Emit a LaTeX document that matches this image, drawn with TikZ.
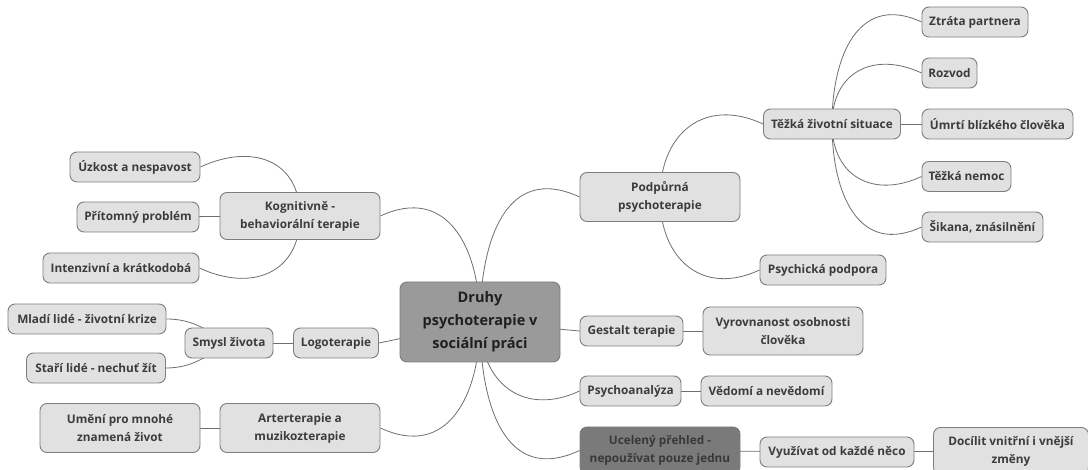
\documentclass[tikz,border=0pt]{standalone}
\usepackage{fontspec}
\setmainfont{Open Sans}
\usetikzlibrary{backgrounds}
\definecolor{boxfill}{HTML}{E1E1E1}
\definecolor{boxline}{HTML}{7E7E7E}
\definecolor{boxtext}{HTML}{3C3C3C}
\definecolor{rootfill}{HTML}{9A9A9A}
\definecolor{darkfill}{HTML}{7A7A7A}
\definecolor{linkcol}{HTML}{6E6E6E}
\tikzset{
  topic/.style={draw=boxline, fill=boxfill, line width=0.9pt, rounded corners=7pt,
    text=boxtext, font=\fontsize{11.8}{18}\selectfont\bfseries, align=center,
    inner sep=0pt, minimum height=30pt},
  root/.style={topic, fill=rootfill, text=black!88, font=\fontsize{14.5}{23}\selectfont\bfseries},
  darktopic/.style={topic, fill=darkfill, text=black!78},
  link/.style={draw=linkcol, line width=0.8pt},
  up/.style={out=90, looseness=1.3},
  dn/.style={out=270, looseness=1.3}
}
\begin{document}
\begin{tikzpicture}[x=1pt, y=-1pt]
\useasboundingbox (0,0) rectangle (1088,470);
% nodes
\node[root, minimum width=160pt, minimum height=80pt] (c) at (480,322) {Druhy\\psychoterapie v\\sociální práci};
\node[topic, minimum width=160pt, minimum height=47pt] (kog) at (300,216) {Kognitivně -\\behaviorální terapie};
\node[topic, minimum width=130pt] (uzk) at (135,167) {Úzkost a nespavost};
\node[topic, minimum width=122pt] (prit) at (138,217) {Přítomný problém};
\node[topic, minimum width=156pt] (int) at (121,268) {Intenzivní a krátkodobá};
\node[topic, minimum width=88pt] (smysl) at (229,343) {Smysl života};
\node[topic, minimum width=85pt] (logo) at (336,343) {Logoterapie};
\node[topic, minimum width=158pt] (mladi) at (87,319) {Mladí lidé - životní krize};
\node[topic, minimum width=139pt] (stari) at (96,368) {Staří lidé - nechuť žít};
\node[topic, minimum width=160pt, minimum height=49pt] (umeni) at (120,428) {Umění pro mnohé\\znamená život};
\node[topic, minimum width=160pt, minimum height=49pt] (arte) at (300,428) {Arterterapie a\\muzikozterapie};
\node[topic, minimum width=160pt, minimum height=49pt] (podp) at (660,197) {Podpůrná\\psychoterapie};
\node[topic, minimum width=137pt] (tezka) at (832,124) {Těžká životní situace};
\node[topic, minimum width=106pt] (ztrata) at (975,22) {Ztráta partnera};
\node[topic, minimum width=55pt] (rozvod) at (949.5,73) {Rozvod};
\node[topic, minimum width=151pt] (umrti) at (997.5,124) {Úmrtí blízkého člověka};
\node[topic, minimum width=89pt] (nemoc) at (966.5,176.5) {Těžká nemoc};
\node[topic, minimum width=121pt] (sikana) at (982.5,227) {Šikana, znásilnění};
\node[topic, minimum width=126pt] (psych) at (823,270) {Psychická podpora};
\node[topic, minimum width=103pt] (gestalt) at (631.5,331) {Gestalt terapie};
\node[topic, minimum width=160pt, minimum height=48pt] (vyrov) at (783,331) {Vyrovnanost osobnosti\\člověka};
\node[topic, minimum width=101pt] (psa) at (630.5,391) {Psychoanalýza};
\node[topic, minimum width=131pt] (vedomi) at (766.5,391) {Vědomí a nevědomí};
\node[darktopic, minimum width=160pt, minimum height=47pt] (ucel) at (660,450.5) {Ucelený přehled -\\nepoužívat pouze jednu};
\node[topic, minimum width=154pt] (vyuz) at (837,452) {Využívat od každé něco};
\node[topic, minimum width=155pt, minimum height=47pt] (docil) at (1011,451) {Docílit vnitřní i vnější\\změny};
% connectors
\begin{pgfonlayer}{background}
\draw[link] (c.center) to[up, in=25] (kog.east);
\draw[link] (c.center) to[up, in=155] (podp.west);
\draw[link] (c.center) -- (logo.east);
\draw[link] (c.center) -- (gestalt.west);
\draw[link] (c.center) to[dn, in=335] (arte.east);
\draw[link] (c.center) to[dn, in=205] (psa.west);
\draw[link] (c.center) to[dn, in=205] (ucel.west);
\draw[link] (kog.center) to[up, in=25] (uzk.east);
\draw[link] (kog.center) -- (prit.center);
\draw[link] (kog.center) to[dn, in=335] (int.east);
\draw[link] (logo.center) -- (smysl.center);
\draw[link] (smysl.center) to[out=150, in=0, looseness=1] (mladi.east);
\draw[link] (smysl.center) to[out=210, in=0, looseness=1] (stari.east);
\draw[link] (arte.center) -- (umeni.center);
\draw[link] (podp.center) to[up, in=155] (tezka.west);
\draw[link] (podp.center) to[dn, in=205] (psych.west);
\draw[link] (tezka.center) to[up, in=155] (ztrata.west);
\draw[link] (tezka.center) to[up, in=155] (rozvod.west);
\draw[link] (tezka.center) -- (umrti.center);
\draw[link] (tezka.center) to[dn, in=205] (nemoc.west);
\draw[link] (tezka.center) to[dn, in=205] (sikana.west);
\draw[link] (gestalt.center) -- (vyrov.center);
\draw[link] (psa.center) -- (vedomi.center);
\draw[link] (ucel.center) -- (vyuz.center);
\draw[link] (vyuz.center) -- (docil.center);
\end{pgfonlayer}
\end{tikzpicture}
\end{document}
